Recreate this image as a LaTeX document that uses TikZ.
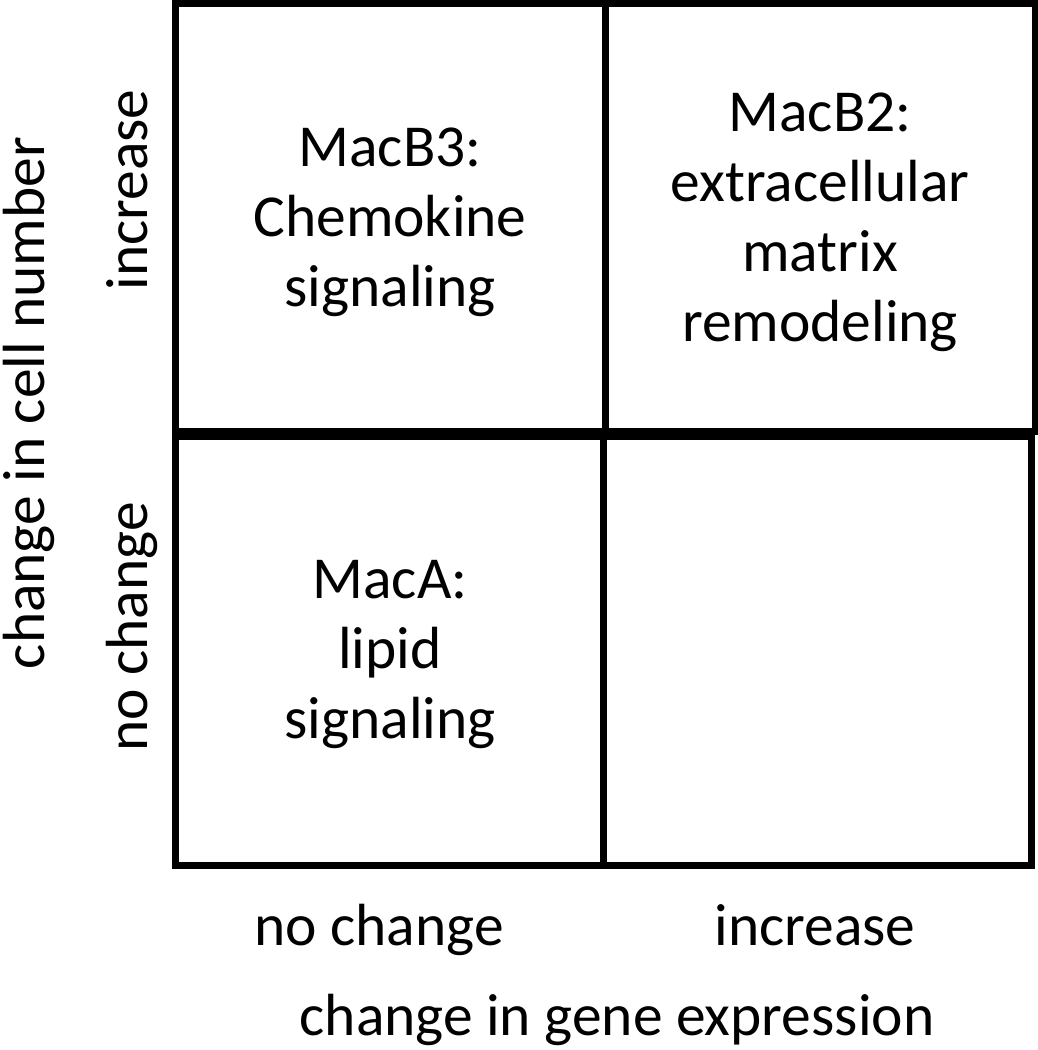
\documentclass[tikz,border=0pt]{standalone}
\usepackage{fontspec}
\setmainfont{Carlito}
\begin{document}
\begin{tikzpicture}[x=1pt,y=-1pt,
  cell/.style={draw=black,line width=7pt,rectangle,inner sep=0pt,outer sep=0pt},
  lbl/.style={font=\fontsize{59.5}{70}\selectfont,align=center,inner sep=0pt},
  axl/.style={font=\fontsize{59.5}{70}\selectfont,inner sep=0pt,anchor=base}]
\useasboundingbox (0,0) rectangle (1038,1050);
\node[cell,minimum width=429.5pt,minimum height=428.5pt] (tl) at (390.25,217.25) {};
\node[cell,minimum width=430pt,minimum height=428.5pt] (tr) at (820,217.25) {};
\node[cell,minimum width=427.5pt,minimum height=428.5pt] (bl) at (389.25,650.75) {};
\node[cell,minimum width=428pt,minimum height=428.5pt] (br) at (817,650.75) {};
\node[lbl] (t1) at (390,222) {MacB3:\\Chemokine\\signaling};
\node[lbl] (t2) at (820,222) {MacB2:\\extracellular\\matrix\\remodeling};
\node[lbl] (t3) at (390,655) {MacA:\\lipid\\signaling};
\node[axl,rotate=90] (yl) at (44,403) {change in cell number};
\node[axl,rotate=90] (yi) at (147,190) {increase};
\node[axl,rotate=90] (yn) at (147,627) {no change};
\node[axl] (xn) at (379,945) {no change};
\node[axl] (xi) at (815,945) {increase};
\node[axl] (xl) at (617,1035) {change in gene expression};
\end{tikzpicture}
\end{document}
